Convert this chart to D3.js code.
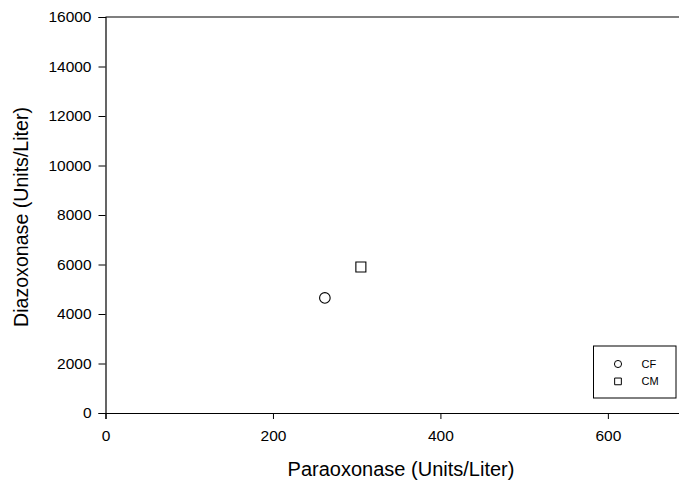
<!DOCTYPE html>
<html><head><meta charset="utf-8">
<script src="https://cdn.jsdelivr.net/npm/d3@7"></script>
<style>body{margin:0;background:#fff;overflow:hidden}svg{display:block}text{font-family:"Liberation Sans",Arial,sans-serif}</style>
</head><body>
<script>
const seriesNames = ["CF", "CM"];
const seriesSymbols = ["circle", "square"];
const paraoxonase = [262, 305];
const diazoxonase = [4650, 5900];
const xTicks = [0, 200, 400, 600];
const yTicks = [0, 2000, 4000, 6000, 8000, 10000, 12000, 14000, 16000];

const W = 679, H = 483;
const svg = d3.select("body").append("svg").attr("width", W).attr("height", H);
const x = d3.scaleLinear().domain([0, 700]).range([105.5, 691.6]);
const y = d3.scaleLinear().domain([0, 16000]).range([413, 17]);

const xAxis = svg.append("g").attr("transform", "translate(0,413)")
  .call(d3.axisBottom(x).tickValues(xTicks).tickSize(6).tickPadding(11).tickFormat(d3.format("d")));
const yAxis = svg.append("g").attr("transform", "translate(105.5,0)")
  .call(d3.axisLeft(y).tickValues(yTicks).tickSize(7).tickPadding(7).tickFormat(d3.format("d")));
[xAxis, yAxis].forEach(a => {
  a.selectAll("path").attr("stroke", "#000").attr("stroke-width", 1.2);
  a.selectAll("line").attr("stroke", "#000");
  a.selectAll("text").attr("font-size", 15.5).attr("fill", "#000").attr("font-family", '"Liberation Sans",Arial,sans-serif');
});
svg.append("line").attr("x1", x(0)).attr("x2", x(700)).attr("y1", y(16000)).attr("y2", y(16000))
  .attr("stroke", "#000").attr("stroke-width", 1.2);
svg.append("line").attr("x1", x(700)).attr("x2", x(700)).attr("y1", y(16000)).attr("y2", y(0))
  .attr("stroke", "#000").attr("stroke-width", 1.2);

const sym = {circle: d3.symbolCircle, square: d3.symbolSquare};
const sizes = {circle: 88, square: 100};
paraoxonase.forEach((v, i) => {
  const s = seriesSymbols[i];
  svg.append("path").attr("d", d3.symbol(sym[s], sizes[s])())
    .attr("transform", `translate(${x(v)},${y(diazoxonase[i])})`)
    .attr("fill", "none").attr("stroke", "#000").attr("stroke-width", 1.1);
});

svg.append("text").attr("x", 401).attr("y", 476).attr("text-anchor", "middle")
  .attr("font-size", 20).text("Paraoxonase (Units/Liter)");
svg.append("text").attr("transform", "translate(27.5,217) rotate(-90)").attr("text-anchor", "middle")
  .attr("font-size", 19.6).text("Diazoxonase (Units/Liter)");

const legendSizes = {circle: 40, square: 45};
const lg = svg.append("g");
lg.append("rect").attr("x", 593.5).attr("y", 346).attr("width", 82.5).attr("height", 52)
  .attr("fill", "#fff").attr("stroke", "#000").attr("stroke-width", 1);
seriesNames.forEach((n, i) => {
  const s = seriesSymbols[i];
  const cy = 364 + i * 17.4;
  lg.append("path").attr("d", d3.symbol(sym[s], legendSizes[s])())
    .attr("transform", `translate(618,${cy})`).attr("fill", "none").attr("stroke", "#000").attr("stroke-width", 1);
  lg.append("text").attr("x", 641.5).attr("y", cy + 4).attr("font-size", 11).text(n);
});
</script>
</body></html>
